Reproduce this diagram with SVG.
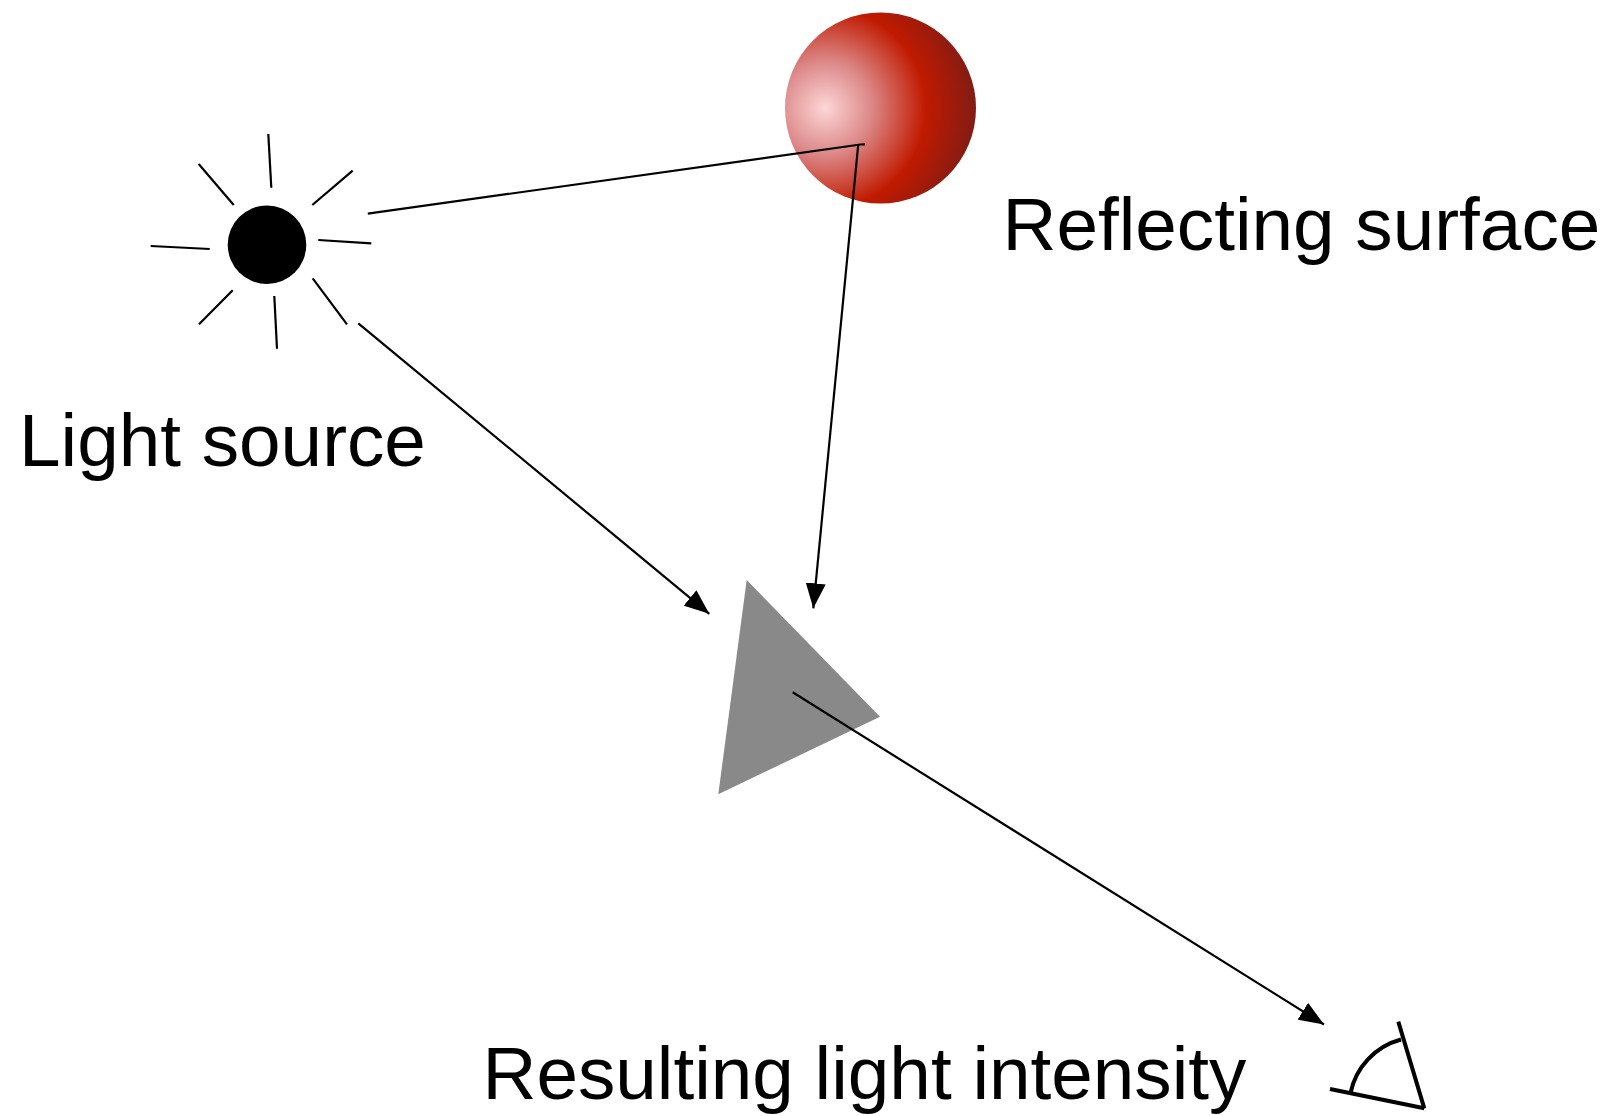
<svg xmlns="http://www.w3.org/2000/svg" width="1611" height="1116" viewBox="0 0 1611 1116">
  <style>
    .label { font-family: "Liberation Sans", Arial, Helvetica, sans-serif; font-size: 74.7px; fill: #000; }
    .ray { stroke: #000; stroke-width: 2.2; fill: none; }
    .conn { stroke: #000; stroke-width: 2.2; fill: none; }
    .eye { stroke: #000; stroke-width: 4; fill: none; stroke-linecap: butt; }
  </style>
  <defs>
    <radialGradient id="sphereShade" gradientUnits="userSpaceOnUse" cx="825" cy="108" r="155" fx="825" fy="108">
      <stop offset="0" stop-color="#fdd6d6"/>
      <stop offset="0.3" stop-color="#dc8888"/>
      <stop offset="0.65" stop-color="#c01a00"/>
      <stop offset="1" stop-color="#7c1c16"/>
    </radialGradient>
    <marker id="arrowBig" viewBox="0 0 25 20" refX="25" refY="10" markerWidth="25" markerHeight="20" markerUnits="userSpaceOnUse" orient="auto">
      <path d="M0,0 L25,10 L0,20 z" fill="#000"/>
    </marker>
  </defs>

  <rect width="1611" height="1116" fill="#fff"/>

  <!-- light source: sun with rays -->
  <g id="light-source">
    <circle cx="267" cy="244.7" r="39.3" fill="#000"/>
    <line class="ray" x1="268.3" y1="134" x2="271.3" y2="187.7"/>
    <line class="ray" x1="198.7" y1="164" x2="233.7" y2="205"/>
    <line class="ray" x1="352.7" y1="170.7" x2="312.3" y2="205"/>
    <line class="ray" x1="318.3" y1="240" x2="371.3" y2="243.3"/>
    <line class="ray" x1="150.7" y1="246" x2="209.7" y2="249"/>
    <line class="ray" x1="232.7" y1="290.3" x2="199" y2="324.3"/>
    <line class="ray" x1="274.3" y1="296" x2="277" y2="348.7"/>
    <line class="ray" x1="312.7" y1="278.3" x2="347" y2="324.3"/>
    <text class="label" x="19" y="466">Light source</text>
  </g>

  <!-- reflecting surface: shaded sphere -->
  <g id="reflecting-surface">
    <circle cx="880.5" cy="108" r="95.5" fill="url(#sphereShade)"/>
    <text class="label" x="1002.5" y="249.5">Reflecting surface</text>
  </g>

  <!-- object being lit -->
  <g id="object">
    <polygon points="746.7,580 880,716.7 718.3,794.3" fill="#898989"/>
  </g>

  <!-- observer: eye / angle symbol -->
  <g id="observer">
    <line class="eye" x1="1398.3" y1="1021.7" x2="1424.3" y2="1108.3"/>
    <line class="eye" x1="1330" y1="1089" x2="1424.3" y2="1108.3"/>
    <path class="eye" d="M1350.5,1093 A70,70 0 0 1 1401,1039.5"/>
    <text class="label" x="482.5" y="1099.3">Resulting light intensity</text>
  </g>

  <!-- light paths -->
  <g id="connectors">
    <polyline class="conn" points="367.8,213.7 860.5,144.5 865,144.3"/>
    <line class="conn" x1="858.3" y1="144" x2="813.3" y2="608.3" marker-end="url(#arrowBig)"/>
    <line class="conn" x1="358.3" y1="323.3" x2="709.3" y2="613.8" marker-end="url(#arrowBig)"/>
    <line class="conn" x1="792.7" y1="692.3" x2="1324" y2="1024.5" marker-end="url(#arrowBig)"/>
  </g>
</svg>
